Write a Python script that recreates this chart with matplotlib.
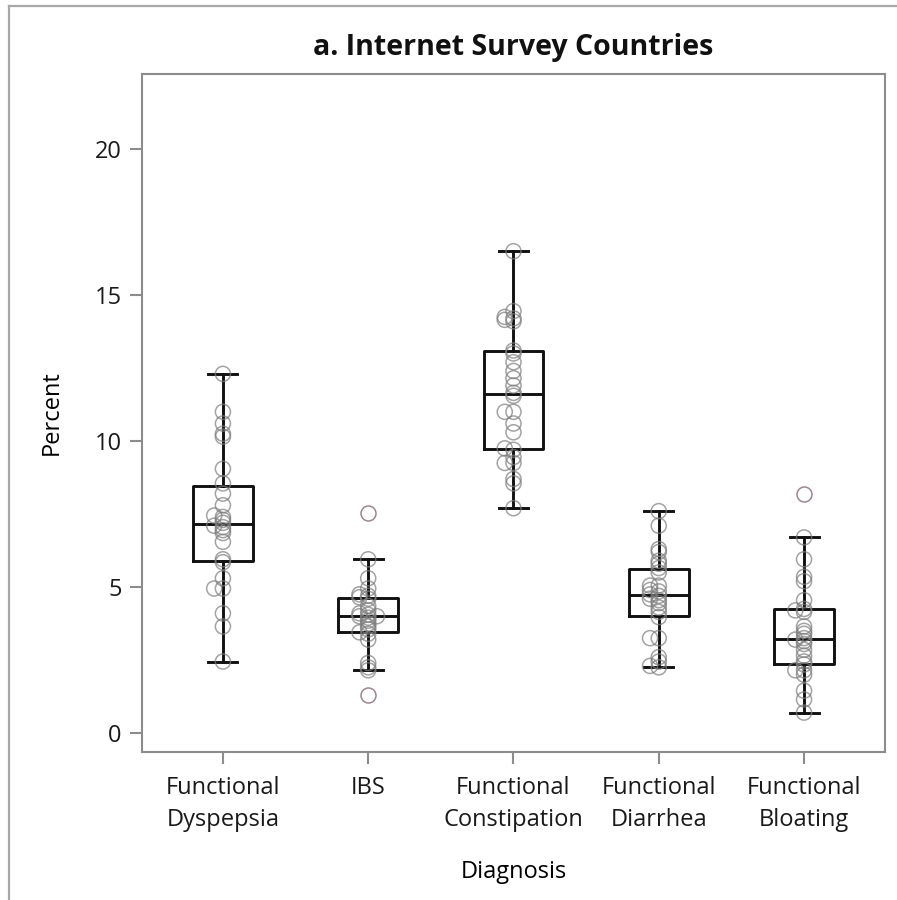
import numpy as np
import matplotlib
matplotlib.use("Agg")
from matplotlib import pyplot as plt
from matplotlib.lines import Line2D

plt.rcParams['font.family'] = ['Open Sans', 'DejaVu Sans']

# Prevalence (%) per country, 26 internet survey countries
categories = ['Functional\nDyspepsia', 'IBS', 'Functional\nConstipation',
              'Functional\nDiarrhea', 'Functional\nBloating']

dyspepsia = [2.45, 3.65, 4.1, 4.95, 4.95, 5.3, 5.85, 5.95, 6.55, 6.85, 6.95, 7.05, 7.1,
             7.2, 7.3, 7.4, 7.45, 7.8, 8.2, 8.55, 9.05, 10.15, 10.25, 10.6, 11.0, 12.3]
ibs = [1.3, 2.15, 2.25, 2.4, 3.2, 3.4, 3.45, 3.55, 3.65, 3.75, 3.85, 3.95, 4.0,
       4.0, 4.05, 4.1, 4.2, 4.35, 4.6, 4.65, 4.7, 4.75, 4.95, 5.3, 5.95, 7.55]
constipation = [7.7, 8.55, 8.7, 9.25, 9.25, 9.45, 9.7, 9.75, 10.3, 10.6, 11.0, 11.0, 11.55,
                11.65, 11.9, 12.15, 12.4, 12.7, 13.0, 13.1, 14.1, 14.15, 14.2, 14.25, 14.45, 16.5]
diarrhea = [2.25, 2.3, 2.45, 2.6, 3.25, 3.25, 3.97, 4.15, 4.3, 4.45, 4.55, 4.6, 4.7,
            4.75, 4.85, 4.9, 5.05, 5.05, 5.5, 5.65, 5.8, 5.9, 6.2, 6.3, 7.1, 7.6]
bloating = [0.7, 1.15, 1.45, 2.0, 2.15, 2.15, 2.35, 2.45, 2.65, 2.85, 3.05, 3.15, 3.2,
            3.25, 3.4, 3.5, 3.65, 4.15, 4.2, 4.25, 4.55, 5.2, 5.35, 5.95, 6.7, 8.2]

groups = [dyspepsia, ibs, constipation, diarrhea, bloating]
yticks = [0, 5, 10, 15, 20]

fig = plt.figure(figsize=(8.97, 9), dpi=100)
ax = fig.add_axes([0.1583, 0.1644, 0.8283, 0.7534])

pos = np.arange(len(groups))
bp = ax.boxplot(groups, positions=pos, widths=0.41, whis=1.5, capwidths=0.2,
                boxprops=dict(color='#111111', linewidth=2.1),
                whiskerprops=dict(color='#111111', linewidth=2.1),
                capprops=dict(color='#111111', linewidth=2.1),
                medianprops=dict(color='#111111', linewidth=2.1),
                flierprops=dict(marker='o', markersize=10.8, markerfacecolor='none',
                                markeredgecolor='#9a8794', markeredgewidth=1.1),
                zorder=2)

# small sideways offsets only for points that would sit on top of each other
def spread(vals, step=0.06, tol=0.06):
    placed = []
    offs = []
    for v in vals:
        for o in [0, -step, step, -2 * step, 2 * step]:
            if all(abs(v - pv) >= tol or po != o for pv, po in placed):
                break
        placed.append((v, o))
        offs.append(o)
    return np.array(offs)

for i, g in enumerate(groups):
    g = np.array(g)
    x = i + spread(g)
    out = np.isin(g, bp['fliers'][i].get_ydata())
    ax.scatter(x[~out], g[~out], s=118, facecolors='none', edgecolors='#7d7d7d',
               linewidths=1.1, alpha=0.7, zorder=3)

ax.set_xlim(-0.557, 4.557)
ax.set_ylim(-0.65, 22.57)
ax.set_xticks(pos)
ax.set_xticklabels(categories, fontsize=17, linespacing=1.45)
ax.set_yticks(yticks)
ax.set_yticklabels([str(t) for t in yticks], fontsize=17)
for s in ax.spines.values():
    s.set_color('#8c8c8c')
    s.set_linewidth(1.5)
ax.tick_params(axis='both', color='#8c8c8c', width=1.5, length=8.5, labelcolor='#1a1a1a')
ax.tick_params(axis='x', pad=9)
ax.tick_params(axis='y', pad=6)
ax.set_ylabel('Percent', fontsize=17, labelpad=22)
ax.set_xlabel('Diagnosis', fontsize=17, labelpad=20)

fig.text(0.5725, 0.947, 'a. Internet Survey Countries', ha='center', va='center',
         fontsize=20.5, fontweight='bold', color='#111111')

# outer frame of the graph panel
fig.add_artist(Line2D([0.0100, 0.0100], [0.0, 0.9933], transform=fig.transFigure,
                      color='#a8a8a8', linewidth=1.6))
fig.add_artist(Line2D([0.0100, 1.0], [0.9933, 0.9933], transform=fig.transFigure,
                      color='#a8a8a8', linewidth=1.6))

fig.savefig('out.png', dpi=100)
